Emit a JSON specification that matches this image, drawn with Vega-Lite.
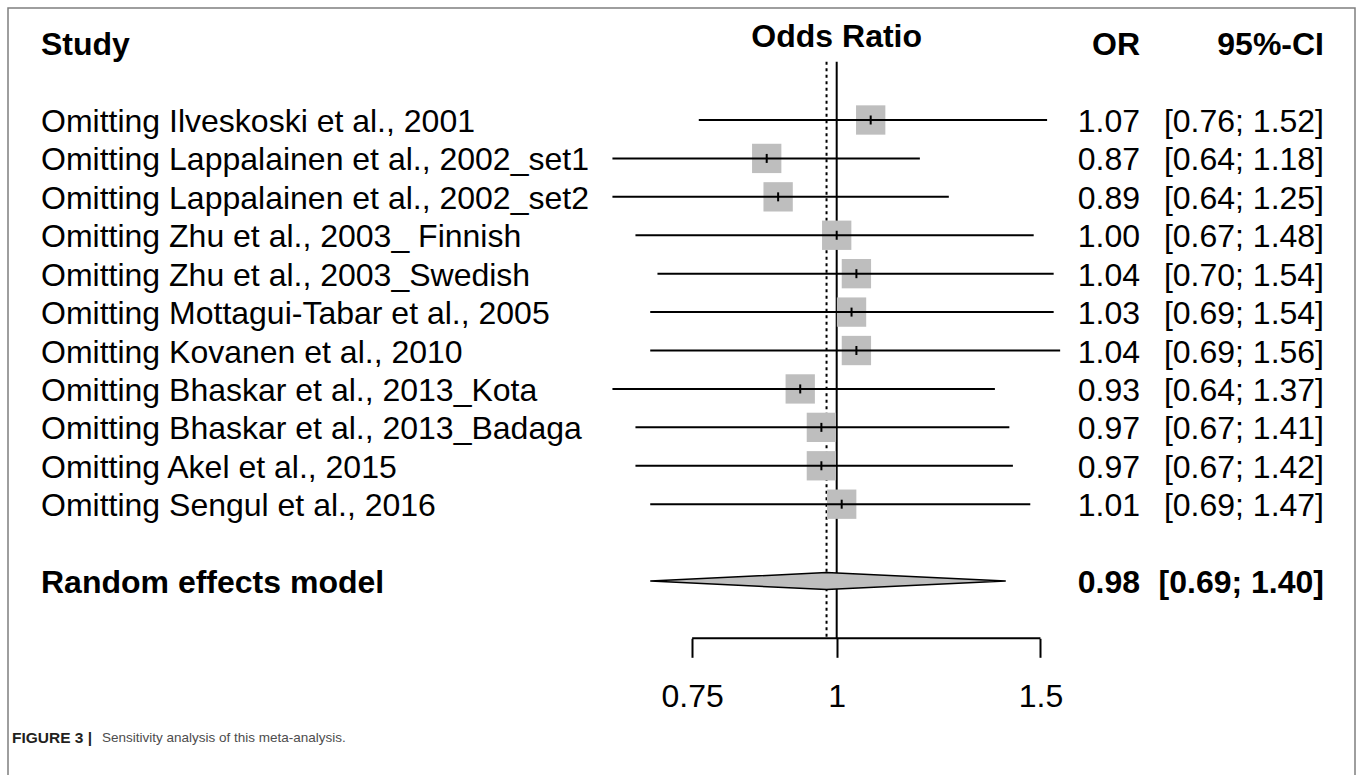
{
  "$schema": "https://vega.github.io/schema/vega-lite/v6.json",
  "width": 1347,
  "height": 768,
  "padding": {"left": 8, "top": 8, "right": 2, "bottom": 0},
  "autosize": {"type": "none"},
  "background": "white",
  "config": {
    "view": {"stroke": "#7f7f7f", "strokeWidth": 1.5},
    "font": "Liberation Sans",
    "text": {"font": "Liberation Sans", "fontSize": 32, "color": "black", "baseline": "middle", "dy": 2}
  },
  "datasets": {
    "studies": [
      {"study": "Omitting Ilveskoski et al., 2001", "row": 0, "or": 1.07, "lo": 0.76, "hi": 1.52, "ci": "[0.76; 1.52]"},
      {"study": "Omitting Lappalainen et al., 2002_set1", "row": 1, "or": 0.87, "lo": 0.64, "hi": 1.18, "ci": "[0.64; 1.18]"},
      {"study": "Omitting Lappalainen et al., 2002_set2", "row": 2, "or": 0.89, "lo": 0.64, "hi": 1.25, "ci": "[0.64; 1.25]"},
      {"study": "Omitting Zhu et al., 2003_ Finnish", "row": 3, "or": 1.00, "lo": 0.67, "hi": 1.48, "ci": "[0.67; 1.48]"},
      {"study": "Omitting Zhu et al., 2003_Swedish", "row": 4, "or": 1.04, "lo": 0.70, "hi": 1.54, "ci": "[0.70; 1.54]"},
      {"study": "Omitting Mottagui-Tabar et al., 2005", "row": 5, "or": 1.03, "lo": 0.69, "hi": 1.54, "ci": "[0.69; 1.54]"},
      {"study": "Omitting Kovanen et al., 2010", "row": 6, "or": 1.04, "lo": 0.69, "hi": 1.56, "ci": "[0.69; 1.56]"},
      {"study": "Omitting Bhaskar et al., 2013_Kota", "row": 7, "or": 0.93, "lo": 0.64, "hi": 1.37, "ci": "[0.64; 1.37]"},
      {"study": "Omitting Bhaskar et al., 2013_Badaga", "row": 8, "or": 0.97, "lo": 0.67, "hi": 1.41, "ci": "[0.67; 1.41]"},
      {"study": "Omitting Akel et al., 2015", "row": 9, "or": 0.97, "lo": 0.67, "hi": 1.42, "ci": "[0.67; 1.42]"},
      {"study": "Omitting Sengul et al., 2016", "row": 10, "or": 1.01, "lo": 0.69, "hi": 1.47, "ci": "[0.69; 1.47]"}
    ],
    "pooled": [
      {"label": "Random effects model", "row": 12, "or": 0.98, "lo": 0.69, "hi": 1.40, "ci": "[0.69; 1.40]"}
    ],
    "diamond": [
      {"x": 0.69, "ytop": 12, "ybot": 12},
      {"x": 0.98, "ytop": 11.78, "ybot": 12.22},
      {"x": 1.40, "ytop": 12, "ybot": 12}
    ],
    "one": [{}]
  },
  "layer": [
    {
      "layer": [
        {
          "data": {"name": "one"},
          "mark": {"type": "rule", "strokeWidth": 2, "color": "black"},
          "encoding": {
            "x": {"datum": 1, "type": "quantitative", "scale": {"type": "log", "domain": [0.19222, 2.80511], "nice": false},
              "axis": {"title": null, "domain": false, "grid": false, "ticks": true, "tickSize": 19, "tickWidth": 2, "tickColor": "black",
                "values": [0.75, 1, 1.5], "format": "~g", "labelFont": "Liberation Sans", "labelFontSize": 32, "labelColor": "black",
                "labelPadding": 24, "labelFlush": false, "labelOverlap": false, "offset": -137.7}},
            "y": {"datum": -1.517, "type": "quantitative", "scale": {"domain": [-2.9152, 17.0744], "reverse": true, "nice": false, "zero": false}, "axis": null},
            "y2": {"datum": 13.49}
          }
        },
        {
          "data": {"name": "pooled"},
          "mark": {"type": "rule", "strokeWidth": 2, "strokeDash": [3, 3.5], "color": "black"},
          "encoding": {
            "x": {"field": "or", "type": "quantitative", "scale": {"type": "log", "domain": [0.19222, 2.80511], "nice": false}},
            "y": {"datum": -1.517, "type": "quantitative", "scale": {"domain": [-2.9152, 17.0744], "reverse": true, "nice": false, "zero": false}, "axis": null},
            "y2": {"datum": 13.49}
          }
        },
        {
          "data": {"name": "one"},
          "mark": {"type": "rule", "strokeWidth": 2, "color": "black"},
          "encoding": {
            "x": {"datum": 0.75, "type": "quantitative", "scale": {"type": "log", "domain": [0.19222, 2.80511], "nice": false}},
            "x2": {"datum": 1.5},
            "y": {"datum": 13.49, "type": "quantitative", "scale": {"domain": [-2.9152, 17.0744], "reverse": true, "nice": false, "zero": false}, "axis": null}
          }
        },
        {
          "data": {"name": "studies"},
          "mark": {"type": "square", "filled": true, "color": "#bebebe", "size": 860, "opacity": 1},
          "encoding": {
            "x": {"field": "or", "type": "quantitative", "scale": {"type": "log", "domain": [0.19222, 2.80511], "nice": false}},
            "y": {"field": "row", "type": "quantitative", "scale": {"domain": [-2.9152, 17.0744], "reverse": true, "nice": false, "zero": false}, "axis": null}
          }
        },
        {
          "data": {"name": "studies"},
          "mark": {"type": "rule", "strokeWidth": 2, "color": "black"},
          "encoding": {
            "x": {"field": "lo", "type": "quantitative", "scale": {"type": "log", "domain": [0.19222, 2.80511], "nice": false}},
            "x2": {"field": "hi"},
            "y": {"field": "row", "type": "quantitative", "scale": {"domain": [-2.9152, 17.0744], "reverse": true, "nice": false, "zero": false}, "axis": null}
          }
        },
        {
          "data": {"name": "studies"},
          "mark": {"type": "tick", "orient": "vertical", "size": 9, "thickness": 2, "color": "black", "opacity": 1},
          "encoding": {
            "x": {"field": "or", "type": "quantitative", "scale": {"type": "log", "domain": [0.19222, 2.80511], "nice": false}},
            "y": {"field": "row", "type": "quantitative", "scale": {"domain": [-2.9152, 17.0744], "reverse": true, "nice": false, "zero": false}, "axis": null}
          }
        },
        {
          "data": {"name": "diamond"},
          "mark": {"type": "area", "orient": "vertical", "color": "#bebebe", "stroke": "black", "strokeWidth": 1.5, "opacity": 1},
          "encoding": {
            "x": {"field": "x", "type": "quantitative", "scale": {"type": "log", "domain": [0.19222, 2.80511], "nice": false}},
            "y": {"field": "ytop", "type": "quantitative", "scale": {"domain": [-2.9152, 17.0744], "reverse": true, "nice": false, "zero": false}, "axis": null},
            "y2": {"field": "ybot"}
          }
        },
        {
          "data": {"name": "one"},
          "mark": {"type": "text", "text": "Odds Ratio", "fontWeight": "bold", "align": "center"},
          "encoding": {
            "x": {"datum": 1, "type": "quantitative", "scale": {"type": "log", "domain": [0.19222, 2.80511], "nice": false}},
            "y": {"datum": -2.212, "type": "quantitative", "scale": {"domain": [-2.9152, 17.0744], "reverse": true, "nice": false, "zero": false}, "axis": null}
          }
        }
      ]
    },
    {
      "layer": [
        {
          "data": {"name": "one"},
          "mark": {"type": "text", "text": "Study", "fontWeight": "bold", "align": "left"},
          "encoding": {
            "x": {"datum": 0.0245, "type": "quantitative", "scale": {"domain": [0, 1], "nice": false, "zero": false}, "axis": null},
            "y": {"datum": -2, "type": "quantitative", "scale": {"domain": [-2.9152, 17.0744], "reverse": true, "nice": false, "zero": false}, "axis": null}
          }
        },
        {
          "data": {"name": "one"},
          "mark": {"type": "text", "text": "OR", "fontWeight": "bold", "align": "right"},
          "encoding": {
            "x": {"datum": 0.84039, "type": "quantitative", "scale": {"domain": [0, 1], "nice": false, "zero": false}, "axis": null},
            "y": {"datum": -2, "type": "quantitative", "scale": {"domain": [-2.9152, 17.0744], "reverse": true, "nice": false, "zero": false}, "axis": null}
          }
        },
        {
          "data": {"name": "one"},
          "mark": {"type": "text", "text": "95%-CI", "fontWeight": "bold", "align": "right"},
          "encoding": {
            "x": {"datum": 0.97699, "type": "quantitative", "scale": {"domain": [0, 1], "nice": false, "zero": false}, "axis": null},
            "y": {"datum": -2, "type": "quantitative", "scale": {"domain": [-2.9152, 17.0744], "reverse": true, "nice": false, "zero": false}, "axis": null}
          }
        },
        {
          "data": {"name": "studies"},
          "mark": {"type": "text", "align": "left"},
          "encoding": {
            "x": {"datum": 0.0245, "type": "quantitative", "scale": {"domain": [0, 1], "nice": false, "zero": false}, "axis": null},
            "y": {"field": "row", "type": "quantitative", "scale": {"domain": [-2.9152, 17.0744], "reverse": true, "nice": false, "zero": false}, "axis": null},
            "text": {"field": "study", "type": "nominal"}
          }
        },
        {
          "data": {"name": "studies"},
          "mark": {"type": "text", "align": "right"},
          "encoding": {
            "x": {"datum": 0.84039, "type": "quantitative", "scale": {"domain": [0, 1], "nice": false, "zero": false}, "axis": null},
            "y": {"field": "row", "type": "quantitative", "scale": {"domain": [-2.9152, 17.0744], "reverse": true, "nice": false, "zero": false}, "axis": null},
            "text": {"field": "or", "type": "quantitative", "format": ".2f"}
          }
        },
        {
          "data": {"name": "studies"},
          "mark": {"type": "text", "align": "right"},
          "encoding": {
            "x": {"datum": 0.97699, "type": "quantitative", "scale": {"domain": [0, 1], "nice": false, "zero": false}, "axis": null},
            "y": {"field": "row", "type": "quantitative", "scale": {"domain": [-2.9152, 17.0744], "reverse": true, "nice": false, "zero": false}, "axis": null},
            "text": {"field": "ci", "type": "nominal"}
          }
        },
        {
          "data": {"name": "pooled"},
          "mark": {"type": "text", "align": "left", "fontWeight": "bold"},
          "encoding": {
            "x": {"datum": 0.0245, "type": "quantitative", "scale": {"domain": [0, 1], "nice": false, "zero": false}, "axis": null},
            "y": {"field": "row", "type": "quantitative", "scale": {"domain": [-2.9152, 17.0744], "reverse": true, "nice": false, "zero": false}, "axis": null},
            "text": {"field": "label", "type": "nominal"}
          }
        },
        {
          "data": {"name": "pooled"},
          "mark": {"type": "text", "align": "right", "fontWeight": "bold"},
          "encoding": {
            "x": {"datum": 0.84039, "type": "quantitative", "scale": {"domain": [0, 1], "nice": false, "zero": false}, "axis": null},
            "y": {"field": "row", "type": "quantitative", "scale": {"domain": [-2.9152, 17.0744], "reverse": true, "nice": false, "zero": false}, "axis": null},
            "text": {"field": "or", "type": "quantitative", "format": ".2f"}
          }
        },
        {
          "data": {"name": "pooled"},
          "mark": {"type": "text", "align": "right", "fontWeight": "bold"},
          "encoding": {
            "x": {"datum": 0.97699, "type": "quantitative", "scale": {"domain": [0, 1], "nice": false, "zero": false}, "axis": null},
            "y": {"field": "row", "type": "quantitative", "scale": {"domain": [-2.9152, 17.0744], "reverse": true, "nice": false, "zero": false}, "axis": null},
            "text": {"field": "ci", "type": "nominal"}
          }
        },
        {
          "data": {"name": "one"},
          "mark": {"type": "text", "text": "FIGURE 3 |", "fontWeight": "bold", "align": "left", "fontSize": 15.5, "color": "#231f20", "dy": 0},
          "encoding": {
            "x": {"datum": 0.00297, "type": "quantitative", "scale": {"domain": [0, 1], "nice": false, "zero": false}, "axis": null},
            "y": {"datum": 16.085, "type": "quantitative", "scale": {"domain": [-2.9152, 17.0744], "reverse": true, "nice": false, "zero": false}, "axis": null}
          }
        },
        {
          "data": {"name": "one"},
          "mark": {"type": "text", "text": "Sensitivity analysis of this meta-analysis.", "align": "left", "fontSize": 13.5, "color": "#4d4d4d", "dy": 0},
          "encoding": {
            "x": {"datum": 0.06978, "type": "quantitative", "scale": {"domain": [0, 1], "nice": false, "zero": false}, "axis": null},
            "y": {"datum": 16.085, "type": "quantitative", "scale": {"domain": [-2.9152, 17.0744], "reverse": true, "nice": false, "zero": false}, "axis": null}
          }
        }
      ]
    }
  ],
  "resolve": {"scale": {"x": "independent"}, "axis": {"x": "independent"}}
}
